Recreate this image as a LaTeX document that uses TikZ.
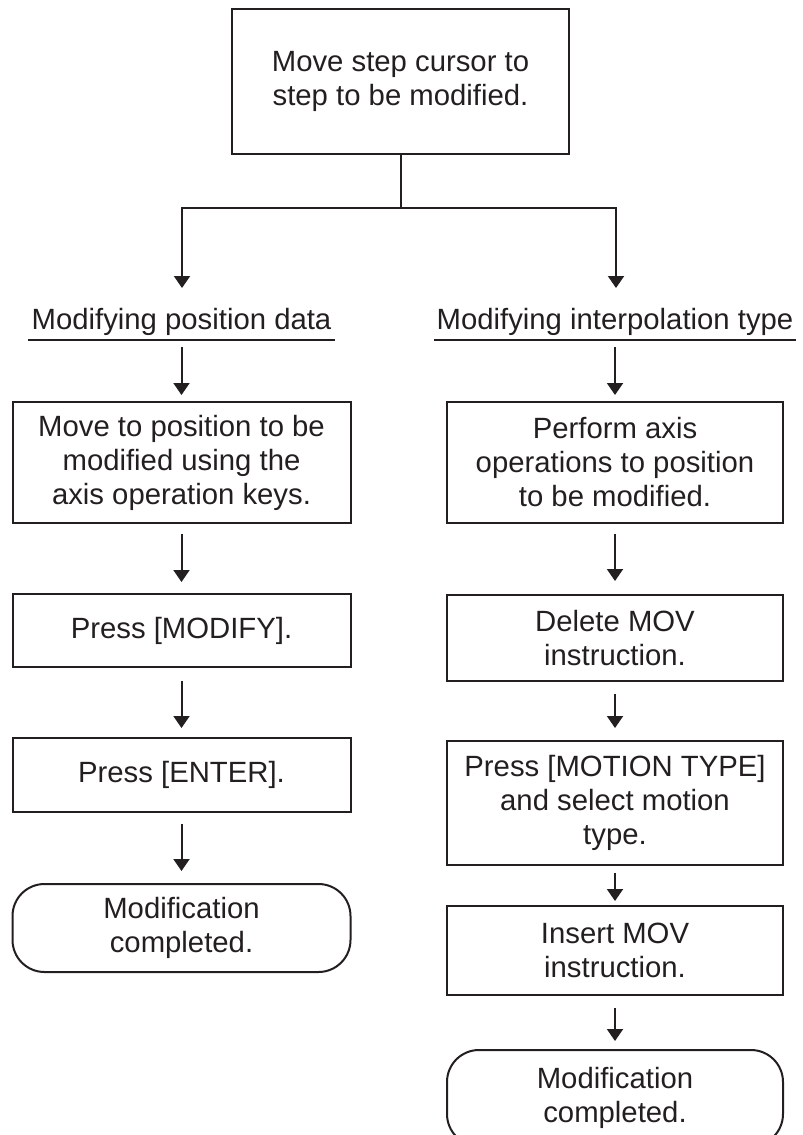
\documentclass[tikz,border=0pt]{standalone}
\usepackage{fontspec}
\setmainfont{Liberation Sans}
\usetikzlibrary{arrows.meta}
\definecolor{ink}{HTML}{231F20}
\begin{document}
\begin{tikzpicture}[x=1pt,y=-1pt,
  every node/.style={font=\fontsize{29.3}{34}\selectfont, text=ink},
  conn/.style={draw=ink, line width=2pt},
  arr/.style={conn, -{Triangle[width=16pt,length=12pt]}},
  box/.style={draw=ink, line width=2pt, rectangle, align=center, inner sep=0pt},
  term/.style={box, rounded corners=32pt},
  lbl/.style={align=center, inner sep=0pt}
]
\useasboundingbox (0,0) rectangle (803,1135);

% top
\node[box, minimum width=337pt, minimum height=145pt] (top) at (400.5,81.5) {Move step cursor to\\step to be modified.};
\coordinate (split) at (400.5,208);
\coordinate (tL) at (182,288);
\coordinate (tR) at (616,288);
\draw[conn] (top.south) -- (split);
\draw[arr] (split) -| (tL);
\draw[arr] (split) -| (tR);

% left column
\node[lbl, minimum width=307pt] (lblL) at (181.5,321.5) {Modifying position data};
\draw[conn] ([yshift=-5pt]lblL.south west) -- ([yshift=-5pt]lblL.south east);
\node[box, minimum width=338pt, minimum height=121pt] (L1) at (181.5,462.5) {Move to position to be\\modified using the\\axis operation keys.};
\node[box, minimum width=338pt, minimum height=73pt] (L2) at (181.5,630.5) {Press [MODIFY].};
\node[box, minimum width=338pt, minimum height=74pt] (L3) at (181.5,775) {Press [ENTER].};
\node[term, minimum width=338pt, minimum height=88pt] (L4) at (181.5,928) {Modification\\completed.};
\draw[arr, shorten <=12pt, shorten >=6pt] (lblL) -- (L1);
\draw[arr, shorten <=10pt, shorten >=11pt] (L1) -- (L2);
\draw[arr, shorten <=13pt, shorten >=9pt] (L2) -- (L3);
\draw[arr, shorten <=11pt, shorten >=12pt] (L3) -- (L4);

% right column
\node[lbl, minimum width=362pt] (lblR) at (615,321.5) {Modifying interpolation type};
\draw[conn] ([yshift=-5pt]lblR.south west) -- ([yshift=-5pt]lblR.south east);
\node[box, minimum width=336pt, minimum height=121pt] (R1) at (615,462.5) {Perform axis\\operations to position\\to be modified.};
\node[box, minimum width=336pt, minimum height=86pt] (R2) at (615,638) {Delete MOV\\instruction.};
\node[box, minimum width=336pt, minimum height=124pt] (R3) at (615,803) {Press [MOTION TYPE]\\and select motion\\type.};
\node[box, minimum width=336pt, minimum height=89pt] (R4) at (615,950.5) {Insert MOV\\instruction.};
\node[term, minimum width=336pt, minimum height=96pt] (R5) at (615,1098) {Modification\\completed.};
\draw[arr, shorten <=12pt, shorten >=6pt] (lblR) -- (R1);
\draw[arr, shorten <=10pt, shorten >=13pt] (R1) -- (R2);
\draw[arr, shorten <=12pt, shorten >=12pt] (R2) -- (R3);
\draw[arr, shorten <=7pt, shorten >=4pt] (R3) -- (R4);
\draw[arr, shorten <=12pt, shorten >=8pt] (R4) -- (R5);
\end{tikzpicture}
\end{document}
